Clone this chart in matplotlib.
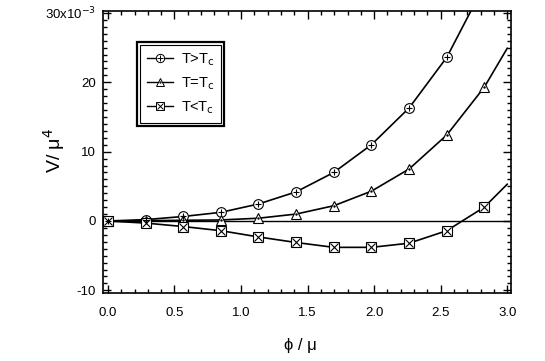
import matplotlib
matplotlib.use("Agg")
import matplotlib.pyplot as plt
from matplotlib.ticker import MultipleLocator, FixedLocator, FixedFormatter, FormatStrFormatter
from matplotlib.legend_handler import HandlerTuple
from matplotlib.lines import Line2D
from matplotlib.patches import Rectangle

plt.rcParams['font.family'] = ['Liberation Sans', 'DejaVu Sans']

# phi/mu grid where markers are drawn
phi = [0.0, 0.283, 0.566, 0.849, 1.131, 1.414, 1.697, 1.980, 2.263, 2.546, 2.828]

# V/mu^4 in units of 1e-3
v_above = [0.0, 0.2, 0.65, 1.25, 2.45, 4.2, 7.0, 11.0, 16.3, 23.6]
v_equal = [0.0, 0.05, 0.1, 0.15, 0.4, 1.0, 2.2, 4.3, 7.5, 12.4, 19.3]
v_below = [0.0, -0.3, -0.8, -1.4, -2.3, -3.1, -3.8, -3.8, -3.2, -1.4, 2.0]

# where the curves leave the frame
end_above = (2.828, 34.0)
end_equal = (3.0, 24.9)
end_below = (3.0, 5.3)

fig = plt.figure(figsize=(5.45, 3.61), dpi=100)
ax = fig.add_axes([0.189, 0.188, 0.749, 0.782])

lw = 1.2
ms = 7

# lines
ax.plot(phi[:len(v_above)] + [end_above[0]], v_above + [end_above[1]], color='black', lw=lw)
ax.plot(phi + [end_equal[0]], v_equal + [end_equal[1]], color='black', lw=lw)
ax.plot(phi + [end_below[0]], v_below + [end_below[1]], color='black', lw=lw)
ax.axhline(0, color='black', lw=1.0)

# markers
xa = phi[:len(v_above)]
ax.plot(xa, v_above, 'o', ms=ms, mfc='white', mec='black', mew=0.8, clip_on=False, zorder=3)
ax.plot(xa, v_above, '+', ms=ms - 2.5, mec='black', mew=0.8, clip_on=False, zorder=4)
ax.plot(phi, v_equal, '^', ms=ms, mfc='white', mec='black', mew=0.8, clip_on=False, zorder=3)
ax.plot(phi, v_equal, '.', ms=1.5, mec='black', mfc='black', clip_on=False, zorder=4)
ax.plot(phi, v_below, 's', ms=ms - 0.5, mfc='white', mec='black', mew=0.8, clip_on=False, zorder=3)
ax.plot(phi, v_below, 'x', ms=ms - 1.5, mec='black', mew=0.8, clip_on=False, zorder=4)

# legend handles (smaller markers than in the plot)
lms = 6
def ln():
    return Line2D([], [], color='black', lw=1.0)
h1 = (ln(), Line2D([], [], ls='', marker='o', ms=lms, mfc='white', mec='black', mew=0.7),
      Line2D([], [], ls='', marker='+', ms=lms - 2, mec='black', mew=0.7))
h2 = (ln(), Line2D([], [], ls='', marker='^', ms=lms, mfc='white', mec='black', mew=0.7),
      Line2D([], [], ls='', marker='.', ms=1.2, mec='black', mfc='black'))
h3 = (ln(), Line2D([], [], ls='', marker='s', ms=lms - 0.5, mfc='white', mec='black', mew=0.7),
      Line2D([], [], ls='', marker='x', ms=lms - 1.5, mec='black', mew=0.7))

ax.set_xlim(-0.037, 3.03)
ax.set_ylim(-10.4, 30.3)

ax.xaxis.set_major_locator(MultipleLocator(0.5))
ax.xaxis.set_minor_locator(MultipleLocator(0.1))
ax.xaxis.set_major_formatter(FormatStrFormatter('%.1f'))
yt = [-10, 0, 10, 20, 30]
ylabels = ['-10', '0', '10', '20', r'30x10$^{-3}$']
ax.yaxis.set_major_locator(FixedLocator(yt))
ax.yaxis.set_major_formatter(FixedFormatter(ylabels))
ax.yaxis.set_minor_locator(MultipleLocator(1))

ax.tick_params(which='both', direction='in', top=True, right=True, width=1.0, labelsize=9.5)
ax.tick_params(which='major', length=6)
ax.tick_params(which='minor', length=3)
ax.tick_params(axis='x', which='major', pad=10)
ax.tick_params(axis='y', which='major', pad=5)
for s in ax.spines.values():
    s.set_linewidth(1.2)

ax.set_xlabel('ϕ / μ', fontsize=12)
ax.xaxis.set_label_coords(0.484, -0.16)
ax.set_ylabel(r'V/ μ$^4$', fontsize=14)
ax.yaxis.set_label_coords(-0.088, 0.505)

leg = ax.legend([h1, h2, h3],
                [r'T>T$_{\rm c}$', r'T=T$_{\rm c}$', r'T<T$_{\rm c}$'],
                handler_map={tuple: HandlerTuple(ndivide=1)},
                loc='upper left', bbox_to_anchor=(0.0907, 0.879),
                fontsize=10.5, handlelength=1.8, handletextpad=0.55,
                labelspacing=0.5, borderpad=0.45, borderaxespad=0,
                fancybox=False, edgecolor='black', framealpha=1)
leg.get_frame().set_linewidth(0.8)

# outer frame of the double border
fig.canvas.draw()
bb = leg.get_window_extent().transformed(fig.transFigure.inverted())
pad_x = 3 / 545
pad_y = 3 / 361
fig.patches.append(Rectangle((bb.x0 - pad_x, bb.y0 - pad_y), bb.width + 2 * pad_x, bb.height + 2 * pad_y,
                             transform=fig.transFigure, fill=False, ec='black', lw=1.6))

fig.savefig('out.png', dpi=100)
